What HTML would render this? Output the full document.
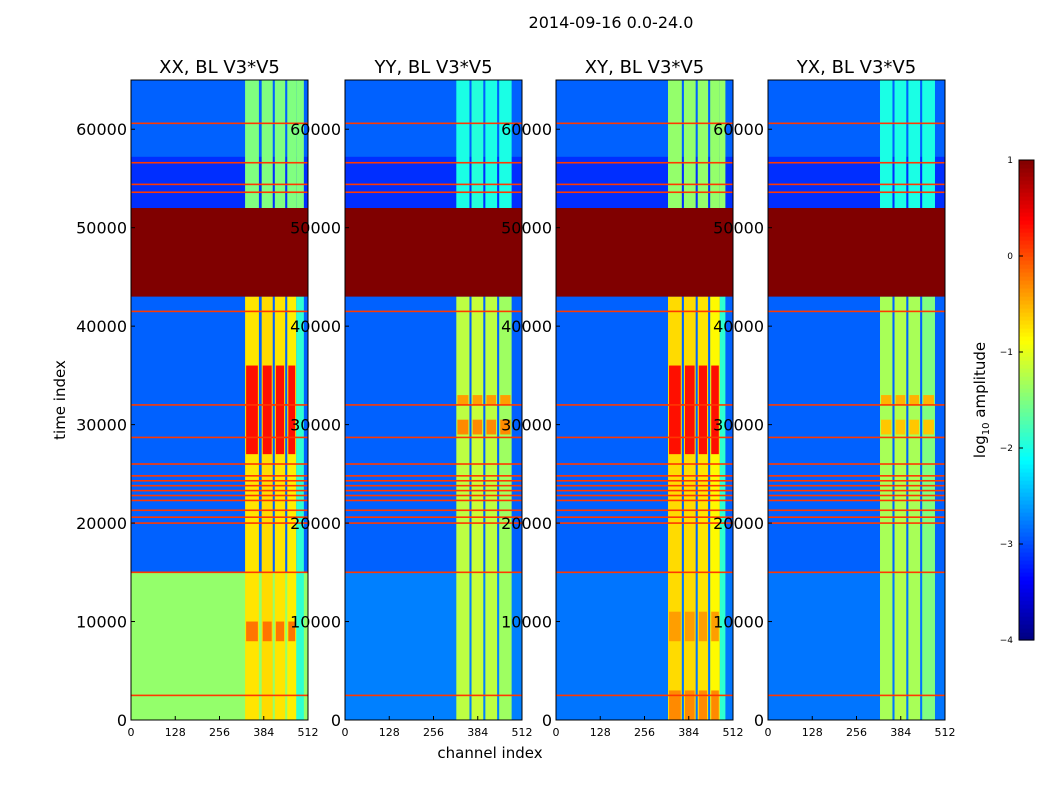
<!DOCTYPE html>
<html><head><meta charset="utf-8"><style>
body{margin:0;background:#fff;font-family:"DejaVu Sans",sans-serif}
svg text{font-family:"DejaVu Sans","Liberation Sans",sans-serif}
</style></head><body>
<svg id="fig" width="1050" height="800" xmlns="http://www.w3.org/2000/svg"></svg>
<script>
const panelTitles=["XX, BL V3*V5","YY, BL V3*V5","XY, BL V3*V5","YX, BL V3*V5"];
const panelX=[131,345,556,768];
const baseValue=[-2.9,-2.9,-2.9,-2.9];
const lowBandValue=[-1.4,-2.75,-2.8,-2.8]; // 0-15000
const colBandsXX=[[330,370,-0.75],[378,410,-0.7],[416,446,-0.75],[452,478,-0.8],[478,500,-1.9]];
const colBandsYY=[[322,360,-1.2],[366,400,-1.15],[406,440,-1.2],[446,482,-1.35]];
const colBandsXY=[[324,364,-0.7],[370,404,-0.7],[410,440,-0.75],[446,474,-0.85],[474,490,-1.9]];
const colBandsYX=[[324,360,-1.3],[366,400,-1.25],[406,440,-1.3],[446,483,-1.5]];
const colBands=[colBandsXX,colBandsYY,colBandsXY,colBandsYX];
const upperColValue=[-1.5,-2.0,-1.4,-2.0]; // 52000-65000
const hotPatches=[[0,27000,36000,0.3],[0,8000,10000,-0.2],[2,27000,36000,0.3],[2,0,3000,-0.3],[2,8000,11000,-0.4],[1,29000,30500,-0.3],[3,29000,30500,-0.6],[1,32000,33000,-0.4],[3,32000,33000,-0.5]];
const flagTimes=[2500,15000,20000,20600,21300,22300,22800,23300,23800,24300,24800,26000,28700,32000,41500,53600,54400,56600,60600];
const flagValue=0.1;
const deadBand=[43000,52000,1.0];
const quietBand=[52000,57200,-3.15];
const xTicks=[0,128,256,384,512];
const yTicks=[0,10000,20000,30000,40000,50000,60000];
const cbTicks=[1,0,-1,-2,-3,-4];

const NS="http://www.w3.org/2000/svg",svg=document.getElementById('fig');
const W=177,Y0=720,Y1=80,TMAX=65000;
function ys(t){return Y0-(t/TMAX)*(Y0-Y1);}
function xs(p,c){return panelX[p]+c/512*W;}
function jet(v){let t=Math.max(0,Math.min(1,(v+4)/5));
 const f=x=>Math.max(0,Math.min(1,1.5-Math.abs(4*t-x)));
 return `rgb(${Math.round(255*f(3))},${Math.round(255*f(2))},${Math.round(255*f(1))})`;}
function el(tag,a,txt){const e=document.createElementNS(NS,tag);for(const k in a)e.setAttribute(k,a[k]);if(txt!==undefined)e.textContent=txt;svg.appendChild(e);return e;}
function rect(p,c0,c1,t0,t1,v,minH){const y=ys(t1),h=Math.max(minH||1,ys(t0)-ys(t1));
 return el('rect',{x:xs(p,c0),y:y,width:xs(p,c1)-xs(p,c0),height:h,fill:jet(v)});}

el('text',{x:611,y:28,'font-size':16,'text-anchor':'middle',},'2014-09-16 0.0-24.0');

for(let p=0;p<4;p++){
 let r=rect(p,0,512,0,TMAX,baseValue[p]);
 
 
 r=rect(p,0,512,0,15000,lowBandValue[p]);
 
 
 r=rect(p,0,512,quietBand[0],quietBand[1],quietBand[2]);
 
 
 for(const b of colBands[p]){
  r=rect(p,b[0],b[1],0,deadBand[0],b[2]);
  
  
  r=rect(p,b[0],b[1],deadBand[1],TMAX,Math.max(upperColValue[p],b[2]-0.8));
  
  
 }
 for(const h of hotPatches){ if(h[0]!==p)continue;
  const cb=colBands[p];
  for(let i=0;i<cb.length-(p%2===0?1:0);i++){
   r=rect(p,cb[i][0]+3,cb[i][1]-3,h[1],h[2],h[3]);
   
   
  }
 }
 for(const t of flagTimes){
  r=rect(p,0,512,t-80,t+80,flagValue,1.6);
  
  
 }
 r=rect(p,0,512,deadBand[0],deadBand[1],deadBand[2]);
 
 
 const fr=el('rect',{x:panelX[p],y:Y1,width:W,height:Y0-Y1,fill:'none',stroke:'#000','stroke-width':1});
 
 
 const tt=el('text',{x:panelX[p]+W/2,y:73,'font-size':18,'text-anchor':'middle'},panelTitles[p]);
 
 
 for(const c of xTicks){
  el('line',{x1:xs(p,c),x2:xs(p,c),y1:Y0,y2:Y0-4,stroke:'#000'});
  const tx=el('text',{x:xs(p,c),y:736,'font-size':11,'text-anchor':'middle'},String(c));
  
  
 }
 for(const t of yTicks){
  el('line',{x1:panelX[p],x2:panelX[p]+4,y1:ys(t),y2:ys(t),stroke:'#000'});
  const ty=el('text',{x:panelX[p]-4,y:ys(t)+6,'font-size':16,'text-anchor':'end'},String(t));
  
  
 }
}
let a=el('text',{x:490,y:758,'font-size':15,'text-anchor':'middle'},'channel index');


a=el('text',{x:65,y:400,'font-size':15,'text-anchor':'middle',transform:'rotate(-90 65 400)'},'time index');



const CB0=640,CB1=160;
for(let i=0;i<120;i++){
 const v=-4+5*(i+0.5)/120;
 const y=CB0-(i+1)*(CB0-CB1)/120;
 el('rect',{x:1019,y:y,width:15,height:(CB0-CB1)/120+0.6,fill:jet(v)});
}
a=el('rect',{x:1019,y:CB1,width:15,height:CB0-CB1,fill:'none',stroke:'#000'});


for(const v of cbTicks){
 const y=CB0-(v+4)/5*(CB0-CB1);
 el('line',{x1:1019,x2:1023,y1:y,y2:y,stroke:'#000'});
 const t=el('text',{x:1013,y:y+3,'font-size':9,'text-anchor':'end'},v<0?'\u2212'+(-v):String(v));
 
 
}
a=el('text',{x:985,y:400,'font-size':15,'text-anchor':'middle',transform:'rotate(-90 985 400)'});
a.innerHTML='log<tspan font-size="10" dy="4">10</tspan><tspan dy="-4"> amplitude</tspan>';


</script>
</body></html>
